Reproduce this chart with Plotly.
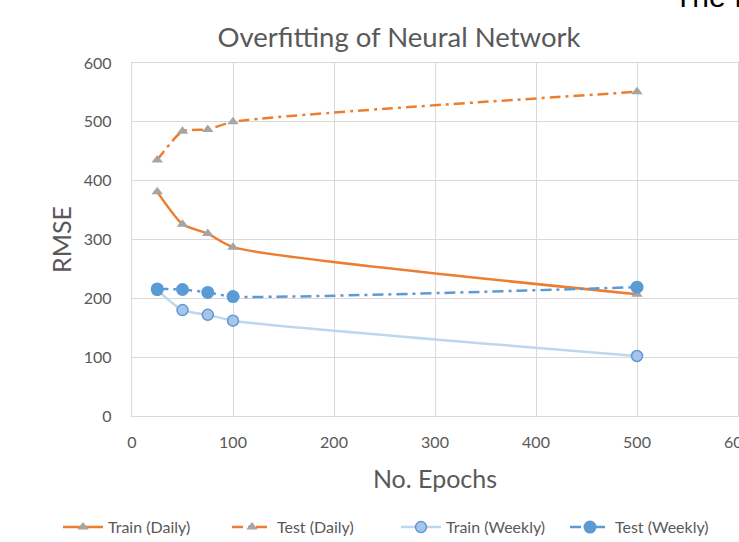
import plotly.graph_objects as go

epochs = [25, 50, 75, 100, 500]
train_daily = [381, 326, 310, 287, 207]
test_daily = [435, 484, 487, 500, 551]
train_weekly = [214, 180, 172, 162, 102]
test_weekly = [216, 215, 210, 203, 219]

x_ticks = [0, 100, 200, 300, 400, 500, 600]
y_ticks = [0, 100, 200, 300, 400, 500, 600]

ORANGE = "#ED7D31"
GRAY = "#A5A5A5"
BLUE = "#5B9BD5"
LIGHTBLUE = "#BDD7EE"
TXT = "#595959"
GRID = "#D9D9D9"
FONT = "Lato, Carlito, Calibri, sans-serif"
DASH = "11px,5px,3px,5px"

fig = go.Figure()
fig.add_trace(go.Scatter(
    x=epochs, y=train_daily, name="Train (Daily)", mode="lines+markers",
    line=dict(color=ORANGE, width=2.5, shape="spline", smoothing=0.6),
    marker=dict(symbol="triangle-up", color=GRAY, size=10)))
fig.add_trace(go.Scatter(
    x=epochs, y=test_daily, name="Test (Daily)", mode="lines+markers",
    line=dict(color=ORANGE, width=2.5, dash=DASH, shape="spline", smoothing=0.6),
    marker=dict(symbol="triangle-up", color=GRAY, size=10)))
fig.add_trace(go.Scatter(
    x=epochs, y=train_weekly, name="Train (Weekly)", mode="lines+markers",
    line=dict(color=LIGHTBLUE, width=2.5, shape="spline", smoothing=0.6),
    marker=dict(symbol="circle", color="#A9C4EB", size=11, line=dict(color=BLUE, width=1.5))))
fig.add_trace(go.Scatter(
    x=epochs, y=test_weekly, name="Test (Weekly)", mode="lines+markers",
    line=dict(color=BLUE, width=2.5, dash=DASH, shape="spline", smoothing=0.6),
    marker=dict(symbol="circle", color=BLUE, size=13)))

fig.update_layout(
    width=739, height=542,
    margin=dict(l=132, r=1, t=63, b=126, autoexpand=False),
    paper_bgcolor="white", plot_bgcolor="white",
    font=dict(family=FONT, color=TXT),
    title=dict(text="Overfitting of Neural Network", x=399 / 739, xanchor="center",
               xref="container", y=1 - 37 / 542, yanchor="middle",
               font=dict(size=27.5, color=TXT, family=FONT)),
    xaxis=dict(range=[0, 600], tickvals=x_ticks[:-1], automargin=False,
               showgrid=True, gridcolor=GRID, gridwidth=1.3, zeroline=False,
               showline=True, linecolor=GRID, linewidth=1.3, mirror=True,
               tickfont=dict(size=16, color=TXT), ticks="", ticklabelstandoff=12,
               title=dict(text="No. Epochs", font=dict(size=25, color=TXT), standoff=20)),
    yaxis=dict(range=[0, 600], tickvals=y_ticks, automargin=False,
               showgrid=True, gridcolor=GRID, gridwidth=1.3, zeroline=False,
               showline=True, linecolor=GRID, linewidth=1.3, mirror=True,
               tickfont=dict(size=16, color=TXT), ticks="", ticklabelstandoff=16,
               title=dict(text="RMSE", font=dict(size=25, color=TXT), standoff=5)),
    legend=dict(orientation="h", x=(58 - 132) / 606, xanchor="left", y=-0.315, yanchor="middle",
                font=dict(size=16, color=TXT), itemwidth=40, traceorder="normal",
                entrywidth=114, entrywidthmode="pixels"),
    annotations=[
        dict(text=str(x_ticks[-1]), xref="x", yref="paper", x=x_ticks[-1], xanchor="center",
             y=-(441 - 416) / 353, yanchor="middle", showarrow=False,
             font=dict(size=16, color=TXT, family=FONT)),
        dict(text="The I", xref="paper", yref="paper", x=(672 - 132) / 606,
             xanchor="left", y=1 + 67 / 353, yanchor="middle",
             showarrow=False, font=dict(size=30, color="black", family="Arial")),
    ],
)

fig.write_html("out.html")
